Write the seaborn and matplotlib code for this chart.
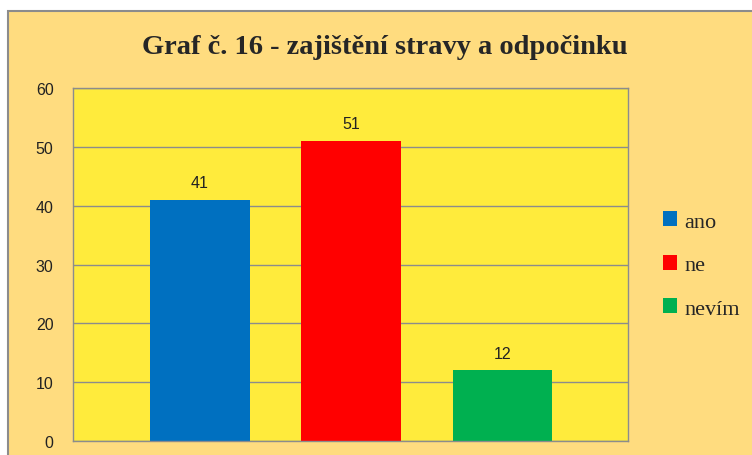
import matplotlib
matplotlib.use("Agg")
import matplotlib.pyplot as plt
import seaborn as sns
import pandas as pd
from matplotlib.patches import Rectangle

categories = ["ano", "ne", "nevím"]
values = [41, 51, 12]
colors = ["#0070C0", "#FF0000", "#00B050"]
yticks = [0, 10, 20, 30, 40, 50, 60]
title = "Graf č. 16 - zajištění stravy a odpočinku"

sns.set_theme(style="white")
plt.rcParams['font.family'] = ['Liberation Sans', 'DejaVu Sans']

fig = plt.figure(figsize=(7.52, 4.56), dpi=100)
fig.patch.set_facecolor("white")
# outer chart area with border
bg = Rectangle((8/752, -0.1), 1.0, (456-12)/456 + 0.1,
               transform=fig.transFigure, facecolor="#FFDC7F",
               edgecolor="#8C8C8C", linewidth=1.5, zorder=-10)
fig.patches.append(bg)

ax = fig.add_axes([73/752, 14/456, (628-73)/752, (442-89)/456])
ax.set_zorder(1)
ax.set_facecolor("#FFEB3C")

df = pd.DataFrame({"cat": categories, "val": values})
sns.barplot(data=df, x="cat", y="val", hue="cat", palette=colors,
            width=0.66, legend=True, ax=ax, saturation=1, linewidth=0)

for c in ax.containers:
    ax.bar_label(c, padding=7, fontsize=11.5, color="#222222")

ax.set_ylim(0, 60)
ax.set_xlim(-0.84, 2.83)
ax.set_yticks(yticks)
ax.set_yticklabels([str(t) for t in yticks], fontsize=11.5, color="#222222")
ax.tick_params(axis="y", length=0, pad=14)
ax.set_xticks([])
ax.set_xlabel("")
ax.set_ylabel("")
ax.yaxis.grid(True, color="#8C8C8C", linewidth=1)
ax.set_axisbelow(True)
for s in ax.spines.values():
    s.set_color("#8C8C8C")
    s.set_linewidth(1)

fig.text(385/752, 1 - 47/456, title, ha="center", va="center",
         fontsize=20.5, fontweight="bold", family=["Liberation Serif", "DejaVu Serif"])

handles, labels = ax.get_legend_handles_labels()
if ax.legend_:
    ax.legend_.remove()
for h in handles:
    h.set_edgecolor("none")
leg = fig.legend(handles, labels, loc="center left",
                 bbox_to_anchor=(643/752, 1 - 266/456),
                 frameon=False, prop={"family": "Liberation Serif", "size": 16},
                 handlelength=0.65, handleheight=0.65, handletextpad=0.3,
                 labelspacing=1.05)
leg.set_zorder(5)

fig.savefig("out.png", dpi=100)
